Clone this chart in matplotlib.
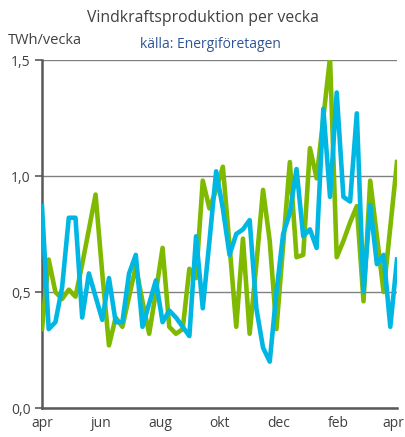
import matplotlib
matplotlib.use("Agg")
import matplotlib.pyplot as plt
import matplotlib.transforms as mtransforms
import numpy as np

plt.rcParams['font.family'] = ['Open Sans', 'DejaVu Sans']

# weekly values, TWh/vecka (54 weeks, apr -> apr)
green_series = [0.34, 0.64, 0.50, 0.47, 0.51, 0.48, 0.62, 0.77, 0.92, 0.58,
                0.27, 0.39, 0.35, 0.48, 0.61, 0.46, 0.32, 0.50, 0.69, 0.35,
                0.32, 0.34, 0.60, 0.56, 0.98, 0.86, 0.94, 1.04, 0.70, 0.35,
                0.73, 0.32, 0.62, 0.94, 0.72, 0.34, 0.70, 1.06, 0.65, 0.66,
                1.12, 0.99, 1.25, 1.51, 0.65, 0.72, 0.80, 0.87, 0.46, 0.98,
                0.74, 0.50, 0.78, 1.06]
blue_series = [0.87, 0.34, 0.37, 0.52, 0.82, 0.82, 0.39, 0.58, 0.48, 0.38,
               0.56, 0.37, 0.37, 0.58, 0.66, 0.35, 0.45, 0.55, 0.37, 0.42,
               0.39, 0.35, 0.31, 0.74, 0.43, 0.72, 1.02, 0.86, 0.66, 0.75,
               0.77, 0.81, 0.43, 0.26, 0.20, 0.50, 0.75, 0.84, 1.03, 0.74,
               0.77, 0.69, 1.29, 0.91, 1.36, 0.91, 0.89, 1.27, 0.50, 0.875,
               0.62, 0.66, 0.35, 0.64]
month_labels = ["apr", "jun", "aug", "okt", "dec", "feb", "apr"]
y_ticks = [0.0, 0.5, 1.0, 1.5]
y_tick_labels = ["0,0", "0,5", "1,0", "1,5"]

W, H = 405, 437
fig = plt.figure(figsize=(W / 100, H / 100), dpi=100)
ax = fig.add_axes([42 / W, 1 - 408 / H, (397 - 42) / W, (408 - 60) / H])

n = len(green_series)
x = np.arange(n)
ax.plot(x, green_series, color="#7fba00", lw=3.3, solid_joinstyle="round", zorder=3)
ax.plot(x, blue_series, color="#00b7e4", lw=3.3, solid_joinstyle="round", zorder=4)

ax.set_xlim(0, n - 1)
ax.set_ylim(0, 1.5)
ax.set_yticks(y_ticks)
ax.set_yticklabels(y_tick_labels, fontsize=10, color="#404040")
ax.set_xticks(np.linspace(0, n - 1, len(month_labels)))
ax.set_xticklabels(month_labels, fontsize=10, color="#404040")
ax.tick_params(axis="x", length=0, pad=6)
ax.tick_params(axis="y", length=5, width=1.2, color="#595959", pad=3)
ax.yaxis.grid(True, color="#808080", lw=1.0)
ax.set_axisbelow(True)
for s in ["top", "right"]:
    ax.spines[s].set_visible(False)
for s in ["left", "bottom"]:
    ax.spines[s].set_color("#595959")
    ax.spines[s].set_linewidth(1.8)

# nudge the last month label inside the figure
last = ax.get_xticklabels()[-1]
last.set_transform(last.get_transform() +
                   mtransforms.ScaledTranslation(-4 / 100, 0, fig.dpi_scale_trans))

fig.text(0.5, 1 - 18 / H, "Vindkraftsproduktion per vecka", ha="center", va="center",
         fontsize=11.3, color="#404040")
fig.text(210 / W, 1 - 44 / H, "källa: Energiföretagen", ha="center", va="center",
         fontsize=10, color="#2f5597")
fig.text(8 / W, 1 - 40 / H, "TWh/vecka", ha="left", va="center",
         fontsize=10.5, color="#404040")

fig.savefig("out.png", dpi=100)
